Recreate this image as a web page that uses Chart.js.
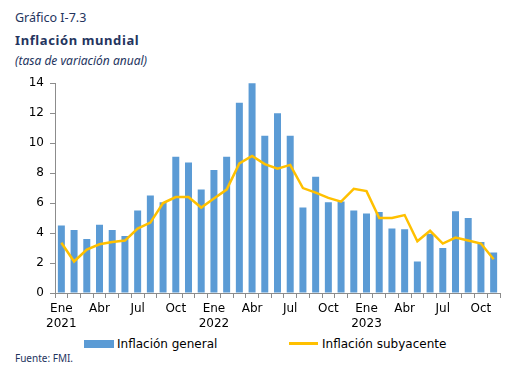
<!DOCTYPE html>
<html>
<head>
<meta charset="utf-8">
<script src="https://cdn.jsdelivr.net/npm/chart.js@4/dist/chart.umd.min.js"></script>
<style>
  body { margin: 0; width: 513px; height: 390px; background: #fff; position: relative; overflow: hidden; }
  .t { position: absolute; left: 15px; color: #24345e; font-family: "Noto Sans", sans-serif; white-space: nowrap; }
  #g1 { top: 9px; font-size: 12.5px; }
  #g2 { top: 31px; font-size: 13px; font-weight: bold; letter-spacing: 0.6px; }
  #g3 { top: 52px; font-size: 12px; font-style: italic; }
  #src { top: 351px; font-size: 10px; }
  #wrap { position: absolute; left: 0; top: 70px; width: 513px; height: 265px; }
  .leg { position: absolute; top: 337px; font-family: "DejaVu Sans", Verdana, sans-serif; font-size: 12px; color: #000; white-space: nowrap; }
  .sw { position: absolute; }
</style>
</head>
<body>
<div class="t" id="g1">Gráfico I-7.3</div>
<div class="t" id="g2">Inflación mundial</div>
<div class="t" id="g3">(tasa de variación anual)</div>
<div id="wrap"><canvas id="chart"></canvas></div>
<div class="sw" style="left:84px;top:340px;width:30px;height:8px;background:#5b9bd5"></div>
<div class="leg" style="left:117px">Inflación general</div>
<div class="sw" style="left:289px;top:342px;width:29px;height:3px;background:#ffc000"></div>
<div class="leg" style="left:322px">Inflación subyacente</div>
<div class="t" id="src">Fuente: FMI.</div>
<script>
// meses ene-2021 a nov-2023
const months = ['Ene','Feb','Mar','Abr','May','Jun','Jul','Ago','Sep','Oct','Nov','Dic'];
const years = ['2021', '2022', '2023'];
const shownMonths = ['Ene', 'Abr', 'Jul', 'Oct'];

const general = [4.5, 4.2, 3.6, 4.55, 4.2, 3.8, 5.5, 6.5, 6.05, 9.1, 8.7, 6.9,
                 8.2, 9.1, 12.7, 14.1, 10.5, 12.0, 10.5, 5.7, 7.75, 6.05,
                 6.1, 5.5, 5.3, 5.4, 4.3, 4.25, 2.1, 3.95, 3.0, 5.45, 5.0, 3.4, 2.7];
const subyacente = [3.35, 2.1, 2.9, 3.25, 3.4, 3.5, 4.3, 4.7, 6.0, 6.4, 6.4, 5.7,
                    6.3, 6.9, 8.65, 9.15, 8.6, 8.3, 8.55, 7.0, 6.7, 6.35,
                    6.1, 6.95, 6.8, 5.0, 5.0, 5.2, 3.45, 4.15, 3.3, 3.7, 3.5, 3.3, 2.25];

const labels = general.map(function(v, i) {
    const m = months[i % 12];
    const y = years[Math.floor(i / 12)];
    if (m === 'Ene') return [m, y];
    return shownMonths.includes(m) ? m : '';
});

const tickFont = { family: '"DejaVu Sans", Verdana, sans-serif', size: 12 };

const ctx = document.getElementById('chart').getContext('2d');
const chart = new Chart(ctx, {
    data: {
        labels: labels,
        datasets: [{
            type: 'line',
            label: 'Inflación subyacente',
            data: subyacente,
            borderColor: '#ffc000',
            borderWidth: 2.5,
            pointRadius: 0,
            tension: 0,
            order: 0
        }, {
            type: 'bar',
            label: 'Inflación general',
            data: general,
            backgroundColor: '#5b9bd5',
            barPercentage: 0.55,
            categoryPercentage: 1,
            order: 1
        }]
    },
    options: {
        responsive: true,
        maintainAspectRatio: false,
        animation: false,
        layout: { padding: { top: 3, right: 13, left: 0, bottom: 0 } },
        scales: {
            x: {
                grid: { offset: true, drawOnChartArea: false, drawTicks: true, tickLength: 5, color: '#8c8c8c' },
                border: { color: '#8c8c8c' },
                ticks: { autoSkip: false, maxRotation: 0, color: '#000', font: tickFont, padding: 4 },
                afterFit: function(scale) { scale.height = 42; }
            },
            y: {
                min: 0,
                max: 14,
                grid: { drawOnChartArea: false, drawTicks: true, tickLength: 5, color: '#8c8c8c' },
                border: { color: '#8c8c8c' },
                ticks: { stepSize: 2, color: '#000', font: tickFont, padding: 6 },
                afterFit: function(scale) { scale.width = 55; }
            }
        },
        plugins: {
            legend: { display: false },
            tooltip: { enabled: false }
        }
    }
});
</script>
</body>
</html>
